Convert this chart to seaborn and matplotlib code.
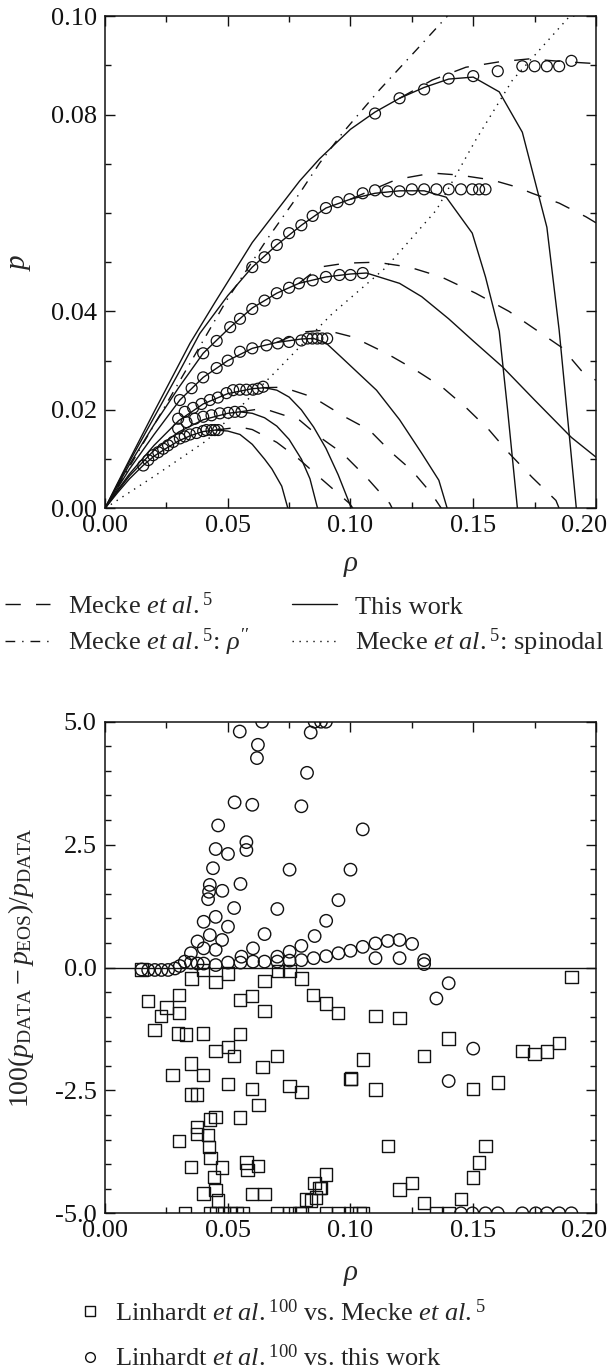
import numpy as np
import pandas as pd
import seaborn as sns
import matplotlib
matplotlib.use("Agg")
import matplotlib.pyplot as plt
from matplotlib.lines import Line2D
from matplotlib.ticker import MultipleLocator, FormatStrFormatter
from matplotlib.transforms import ScaledTranslation

# ---------------- isotherms: this work (solid) ----------------
iso1_rho = [0, 0.005, 0.010, 0.0155, 0.020, 0.025, 0.030, 0.035, 0.040, 0.045, 0.050, 0.055, 0.060, 0.065, 0.068, 0.072, 0.0745]
iso1_p   = [0, 0.0031, 0.0060, 0.0087, 0.0106, 0.0122, 0.0137, 0.0148, 0.0156, 0.0159, 0.0157, 0.0150, 0.0130, 0.0100, 0.0080, 0.0045, 0.0]
iso2_rho = [0, 0.005, 0.010, 0.020, 0.030, 0.040, 0.050, 0.055, 0.060, 0.065, 0.070, 0.075, 0.080, 0.0835, 0.0866]
iso2_p   = [0, 0.0034, 0.0066, 0.0118, 0.0155, 0.0180, 0.0193, 0.0196, 0.0193, 0.0184, 0.0167, 0.0140, 0.0100, 0.0060, 0.0]
iso3_rho = [0, 0.005, 0.010, 0.020, 0.030, 0.040, 0.050, 0.060, 0.065, 0.070, 0.075, 0.080, 0.085, 0.090, 0.095, 0.1004]
iso3_p   = [0, 0.0036, 0.0070, 0.0128, 0.0178, 0.0212, 0.0233, 0.0243, 0.0245, 0.0240, 0.0226, 0.0200, 0.0165, 0.0122, 0.0068, 0.0]
iso4_rho = [0, 0.005, 0.010, 0.020, 0.0305, 0.040, 0.050, 0.060, 0.070, 0.080, 0.085, 0.090, 0.0967, 0.1106, 0.120, 0.129, 0.136, 0.1394]
iso4_p   = [0, 0.0040, 0.0080, 0.0150, 0.0220, 0.0266, 0.0300, 0.0325, 0.0337, 0.0344, 0.0345, 0.0336, 0.0305, 0.0240, 0.0180, 0.0112, 0.0057, 0.0]
iso5_rho = [0, 0.005, 0.010, 0.020, 0.030, 0.040, 0.051, 0.060, 0.070, 0.079, 0.090, 0.100, 0.1065, 0.120, 0.129, 0.140, 0.150, 0.162, 0.175, 0.190, 0.200]
iso5_p   = [0, 0.0045, 0.0089, 0.0170, 0.0245, 0.0315, 0.0368, 0.0407, 0.0437, 0.0457, 0.0470, 0.0476, 0.0478, 0.0457, 0.0430, 0.0385, 0.0340, 0.0287, 0.0220, 0.0144, 0.0104]
iso6_rho = [0, 0.005, 0.010, 0.020, 0.030, 0.0386, 0.050, 0.060, 0.070, 0.080, 0.090, 0.100, 0.110, 0.120, 0.130, 0.139, 0.1496, 0.155, 0.1606, 0.164, 0.168]
iso6_p   = [0, 0.0048, 0.0095, 0.0185, 0.0275, 0.0355, 0.0432, 0.0490, 0.0535, 0.0575, 0.0610, 0.0628, 0.0640, 0.0645, 0.0645, 0.0632, 0.0559, 0.0470, 0.0360, 0.0200, 0.0]
iso7_rho = [0, 0.005, 0.010, 0.020, 0.0346, 0.045, 0.060, 0.0793, 0.0874, 0.100, 0.110, 0.120, 0.130, 0.140, 0.150, 0.1606, 0.170, 0.180, 0.185, 0.192]
iso7_p   = [0, 0.0050, 0.0099, 0.0196, 0.0335, 0.0420, 0.0540, 0.0665, 0.0710, 0.0770, 0.0805, 0.0833, 0.0855, 0.0872, 0.0876, 0.0846, 0.0764, 0.0571, 0.0362, 0.0]

# ---------------- Mecke et al. isotherms beyond the maximum (dashed) ----------------
mecke1_rho = [0.045, 0.055, 0.060, 0.070, 0.079, 0.0874, 0.0996, 0.101]
mecke1_p   = [0.0159, 0.0165, 0.0160, 0.0134, 0.0100, 0.0063, 0.0010, 0.0]
mecke2_rho = [0.055, 0.0644, 0.0793, 0.0874, 0.0967, 0.1065, 0.116, 0.117]
mecke2_p   = [0.0196, 0.0203, 0.0179, 0.0145, 0.0112, 0.0063, 0.0010, 0.0]
mecke3_rho = [0.064, 0.0724, 0.0846, 0.098, 0.1077, 0.117, 0.125, 0.133, 0.137]
mecke3_p   = [0.0245, 0.0246, 0.0226, 0.0185, 0.0159, 0.0112, 0.0077, 0.0030, 0.0]
mecke4_rho = [0.070, 0.080, 0.090, 0.101, 0.1146, 0.1268, 0.1374, 0.147, 0.1565, 0.1646, 0.174, 0.1837, 0.185]
mecke4_p   = [0.0337, 0.0358, 0.0362, 0.0348, 0.0315, 0.0280, 0.0246, 0.0205, 0.0159, 0.0112, 0.0063, 0.0016, 0.0]
mecke5_rho = [0.079, 0.0874, 0.098, 0.1106, 0.124, 0.137, 0.151, 0.1646, 0.174, 0.186, 0.194, 0.200]
mecke5_p   = [0.0457, 0.0490, 0.0498, 0.0500, 0.0490, 0.0470, 0.0437, 0.0400, 0.0368, 0.0327, 0.0280, 0.0260]
mecke6_rho = [0.100, 0.1187, 0.1333, 0.1443, 0.1577, 0.1675, 0.174, 0.185, 0.196, 0.200]
mecke6_p   = [0.0628, 0.0668, 0.0681, 0.0677, 0.0667, 0.0653, 0.0640, 0.0620, 0.0592, 0.0580]
mecke7_rho = [0.120, 0.1333, 0.147, 0.1606, 0.1728, 0.188, 0.198, 0.200]
mecke7_p   = [0.0833, 0.0870, 0.0896, 0.0907, 0.0913, 0.0907, 0.0904, 0.0903]

# saturated vapour density rho'' and vapour spinodal (Mecke et al.)
rho2_rho = [0, 0.0236, 0.0496, 0.0658, 0.0793, 0.0874, 0.0967, 0.1118, 0.1268, 0.138, 0.1395]
rho2_p   = [0, 0.0200, 0.0423, 0.0545, 0.0640, 0.0701, 0.0762, 0.0850, 0.0931, 0.0992, 0.1000]
spin_rho = [0, 0.020, 0.0415, 0.070, 0.0846, 0.0927, 0.1146, 0.135, 0.151, 0.166, 0.189, 0.1912]
spin_p   = [0, 0.0065, 0.0138, 0.0280, 0.0355, 0.0396, 0.0490, 0.0606, 0.0748, 0.0870, 0.0998, 0.1000]

# ---------------- Linhardt et al. data (circles) ----------------
lin1_rho = [0.0156, 0.0176, 0.0196, 0.0217, 0.0237, 0.0257, 0.0278, 0.0305, 0.0325, 0.0346, 0.0373, 0.0400, 0.0413, 0.0434, 0.0447, 0.0461]
lin1_p   = [0.0087, 0.0098, 0.0108, 0.0114, 0.0121, 0.0128, 0.0135, 0.0142, 0.0146, 0.0150, 0.0153, 0.0157, 0.0159, 0.0159, 0.0159, 0.0159]
lin2_rho = [0.0298, 0.0332, 0.0366, 0.0400, 0.0434, 0.0468, 0.0502, 0.0529, 0.0556]
lin2_p   = [0.0162, 0.0175, 0.0182, 0.0186, 0.0189, 0.0193, 0.0194, 0.0196, 0.0196]
lin3_rho = [0.0298, 0.0325, 0.0359, 0.0393, 0.0427, 0.0460, 0.0495, 0.0522, 0.0549, 0.0576, 0.0603, 0.0623, 0.0644]
lin3_p   = [0.0182, 0.0196, 0.0204, 0.0212, 0.0220, 0.0225, 0.0234, 0.0240, 0.0241, 0.0241, 0.0241, 0.0243, 0.0247]
lin4_rho = [0.0305, 0.0353, 0.0400, 0.0455, 0.0500, 0.0550, 0.0600, 0.0658, 0.0704, 0.0750, 0.0800, 0.0825, 0.0845, 0.0865, 0.0885, 0.0905]
lin4_p   = [0.0220, 0.0244, 0.0266, 0.0285, 0.0300, 0.0318, 0.0325, 0.0331, 0.0335, 0.0338, 0.0341, 0.0345, 0.0345, 0.0345, 0.0345, 0.0345]
lin5_rho = [0.0400, 0.0455, 0.0510, 0.0550, 0.0600, 0.0650, 0.0700, 0.0750, 0.0790, 0.0846, 0.0900, 0.0955, 0.1000, 0.1050]
lin5_p   = [0.0315, 0.0340, 0.0368, 0.0385, 0.0405, 0.0422, 0.0437, 0.0448, 0.0457, 0.0463, 0.0470, 0.0474, 0.0474, 0.0478]
lin6_rho = [0.060, 0.065, 0.070, 0.075, 0.080, 0.0846, 0.090, 0.0947, 0.0996, 0.105, 0.110, 0.115, 0.120, 0.125, 0.130, 0.135, 0.140, 0.145, 0.1496, 0.1524, 0.155]
lin6_p   = [0.0490, 0.0510, 0.0535, 0.0559, 0.0575, 0.0594, 0.0610, 0.0622, 0.0628, 0.0640, 0.0646, 0.0644, 0.0644, 0.0648, 0.0648, 0.0648, 0.0648, 0.0648, 0.0648, 0.0648, 0.0648]
lin7_rho = [0.110, 0.120, 0.130, 0.140, 0.150, 0.160, 0.170, 0.175, 0.180, 0.185, 0.190]
lin7_p   = [0.0802, 0.0833, 0.0851, 0.0873, 0.0878, 0.0888, 0.0898, 0.0898, 0.0898, 0.0898, 0.0909]

# ---------------- deviations: Linhardt vs. this work (circles) ----------------
dev_work_rho = [0.0149, 0.0176, 0.0203, 0.0230, 0.0257, 0.0285, 0.0305,
                0.0325, 0.0350, 0.0377, 0.0402, 0.0451, 0.0501, 0.0552, 0.0603, 0.0650, 0.0702, 0.0752, 0.0800,
                0.0350, 0.0377, 0.0402, 0.0451, 0.0427, 0.0477, 0.0402, 0.0451, 0.0501, 0.0526,
                0.0427, 0.0424, 0.0420, 0.0478, 0.0552, 0.0440, 0.0451, 0.0501, 0.0576, 0.0576,
                0.0461, 0.0528, 0.0600, 0.0619, 0.0623, 0.0549, 0.0640,
                0.0556, 0.0603, 0.0650, 0.0702, 0.0752, 0.0800, 0.0854, 0.0901, 0.0951, 0.1000, 0.1050,
                0.0702, 0.0752, 0.0800, 0.0823, 0.0838, 0.0854, 0.0880, 0.0900,
                0.0850, 0.0901, 0.0951, 0.1000, 0.1050, 0.1102, 0.1152, 0.1200, 0.1251,
                0.1102, 0.1200, 0.1300, 0.1300, 0.1400, 0.1350, 0.1500, 0.1400,
                0.1450, 0.1497, 0.1550, 0.1600, 0.1700, 0.1755, 0.1800, 0.1850, 0.1900]
dev_work     = [-0.04, -0.05, -0.05, -0.05, -0.05, -0.02, 0.03,
                0.12, 0.10, 0.08, 0.08, 0.05, 0.10, 0.10, 0.12, 0.12, 0.12, 0.14, 0.15,
                0.29, 0.53, 0.39, 0.36, 0.66, 0.56, 0.93, 1.03, 0.83, 1.21,
                1.68, 1.54, 1.39, 1.56, 1.70, 2.02, 2.41, 2.31, 2.55, 2.39,
                2.89, 3.36, 3.31, 4.26, 4.53, 4.80, 5.00,
                0.22, 0.39, 0.68, 1.19, 1.99, 3.28, 0.64, 0.95, 1.37, 1.99, 2.81,
                0.22, 0.32, 0.44, 3.96, 4.78, 5.00, 5.00, 5.00,
                0.19, 0.23, 0.29, 0.34, 0.42, 0.49, 0.54, 0.56, 0.48,
                0.19, 0.19, 0.15, 0.07, -0.32, -0.63, -1.65, -2.31,
                -5.0, -5.0, -5.0, -5.0, -5.0, -5.0, -5.0, -5.0, -5.0]

# ---------------- deviations: Linhardt vs. Mecke et al. (squares) ----------------
dev_mecke_rho = [0.0149, 0.0352, 0.0400, 0.0451, 0.0501, 0.0650, 0.0705, 0.0752, 0.0800,
                 0.0176, 0.0301, 0.0251, 0.0228, 0.0301, 0.0201, 0.0298, 0.0329, 0.0400,
                 0.0551, 0.0600, 0.0650, 0.0551, 0.0847, 0.0901, 0.0949,
                 0.0450, 0.0501, 0.0526, 0.0701, 0.0350, 0.0275, 0.0400, 0.0641, 0.0501, 0.0600,
                 0.0752, 0.0800, 0.1003, 0.0350, 0.0375, 0.0626, 0.0450, 0.0427, 0.0551,
                 0.0375, 0.0375, 0.0420, 0.0301, 0.0424, 0.0430, 0.0350, 0.0477, 0.0443,
                 0.0576, 0.0580, 0.0623, 0.0402, 0.0450, 0.0460, 0.0600, 0.0650,
                 0.0901, 0.0854, 0.0880, 0.0820, 0.0840, 0.0860, 0.0874,
                 0.1102, 0.1200, 0.1400, 0.1300, 0.1050, 0.1000, 0.1102, 0.1500, 0.1600,
                 0.1700, 0.1750, 0.1800, 0.1850, 0.1900,
                 0.1152, 0.1550, 0.1524, 0.1500, 0.1200, 0.1250, 0.1300, 0.1450,
                 0.0325, 0.0427, 0.0454, 0.0484, 0.0511, 0.0535, 0.0560, 0.0700, 0.0752,
                 0.0800, 0.0793, 0.0901, 0.0951, 0.1000, 0.1037, 0.1050, 0.1351, 0.1400]
dev_mecke     = [-0.04, -0.22, -0.05, -0.29, -0.12, -0.27, -0.07, -0.07, -0.22,
                 -0.68, -0.56, -0.81, -0.99, -0.92, -1.27, -1.34, -1.36, -1.34,
                 -0.66, -0.58, -0.89, -1.35, -0.56, -0.73, -0.92,
                 -1.70, -1.62, -1.80, -1.80, -1.95, -2.19, -2.19, -2.02, -2.37, -2.47,
                 -2.41, -2.53, -2.26, -2.58, -2.58, -2.80, -3.04, -3.09, -3.05,
                 -3.25, -3.39, -3.41, -3.53, -3.65, -3.87, -4.06, -4.07, -4.26,
                 -3.97, -4.12, -4.04, -4.60, -4.53, -4.74, -4.61, -4.61,
                 -4.21, -4.38, -4.48, -4.72, -4.74, -4.68, -4.49,
                 -0.99, -1.03, -1.44, -1.80, -1.87, -2.27, -2.48, -2.47, -2.34,
                 -1.70, -1.76, -1.71, -1.54, -0.19,
                 -3.63, -3.63, -3.97, -4.27, -4.52, -4.38, -4.79, -4.71,
                 -5.0, -5.0, -5.0, -5.0, -5.0, -5.0, -5.0, -5.0, -5.0,
                 -5.0, -5.0, -5.0, -5.0, -5.0, -5.0, -5.0, -5.0, -5.0]

# axis ticks
rho_ticks = [0.00, 0.05, 0.10, 0.15, 0.20]
p_ticks = [0.00, 0.02, 0.04, 0.08, 0.10]
dev_ticks = [-5.0, -2.5, 0.0, 2.5, 5.0]

# ---------------- style ----------------
sns.set_theme(style="ticks")
plt.rcParams.update({
    "font.family": ["Liberation Serif", "DejaVu Serif"],
    "mathtext.fontset": "custom",
    "mathtext.rm": "Liberation Serif",
    "mathtext.it": "Liberation Serif:italic",
    "mathtext.bf": "Liberation Serif:bold",
    "mathtext.fallback": "stix",
    "axes.unicode_minus": False,
    "axes.linewidth": 1.1,
    "xtick.direction": "in", "ytick.direction": "in",
    "xtick.top": True, "ytick.right": True,
    "xtick.major.size": 7, "ytick.major.size": 7,
    "xtick.minor.size": 4, "ytick.minor.size": 4,
    "xtick.major.width": 1.0, "ytick.major.width": 1.0,
    "xtick.minor.width": 1.0, "ytick.minor.width": 1.0,
    "xtick.labelsize": 19, "ytick.labelsize": 19,
    "xtick.color": "#111111", "ytick.color": "#111111",
    "axes.edgecolor": "#111111",
})

INK = "#111111"
DASH = (0, (11, 11))
DASHDOT = (0, (7, 5, 1, 5))
DOT = (0, (1, 4))
LW = 1.0

fig = plt.figure(figsize=(6.1, 13.72), dpi=100)
ax1 = fig.add_axes([0.1721, 0.6295, 0.8049, 0.3588])
ax2 = fig.add_axes([0.1721, 0.11567, 0.8049, 0.3583])


def line(ax, x, y, ls):
    sns.lineplot(x=x, y=y, ax=ax, color=INK, lw=LW, linestyle=ls,
                 sort=False, estimator=None)


# upper panel: isotherms
solid = [(iso1_rho, iso1_p), (iso2_rho, iso2_p), (iso3_rho, iso3_p), (iso4_rho, iso4_p),
         (iso5_rho, iso5_p), (iso6_rho, iso6_p), (iso7_rho, iso7_p)]
mecke = [(mecke1_rho, mecke1_p), (mecke2_rho, mecke2_p), (mecke3_rho, mecke3_p),
         (mecke4_rho, mecke4_p), (mecke5_rho, mecke5_p), (mecke6_rho, mecke6_p),
         (mecke7_rho, mecke7_p)]
for x, y in solid:
    line(ax1, x, y, "-")
for x, y in mecke:
    line(ax1, x, y, DASH)
line(ax1, rho2_rho, rho2_p, DASHDOT)
line(ax1, spin_rho, spin_p, DOT)

lin = [(lin1_rho, lin1_p), (lin2_rho, lin2_p), (lin3_rho, lin3_p), (lin4_rho, lin4_p),
       (lin5_rho, lin5_p), (lin6_rho, lin6_p), (lin7_rho, lin7_p)]
for x, y in lin:
    sns.scatterplot(x=x, y=y, ax=ax1, marker="o", s=62, facecolor="none",
                    edgecolor=INK, linewidth=0.9, zorder=3)

ax1.set_xlim(0, 0.20)
ax1.set_ylim(0, 0.10)
ax1.set_xticks(rho_ticks)
ax1.set_yticks(p_ticks)
ax1.xaxis.set_minor_locator(MultipleLocator(0.025))
ax1.yaxis.set_minor_locator(MultipleLocator(0.01))
ax1.xaxis.set_major_formatter(FormatStrFormatter("%.2f"))
ax1.yaxis.set_major_formatter(FormatStrFormatter("%.2f"))
ax1.tick_params(axis="x", which="major", pad=5)
ax1.tick_params(axis="y", which="major", pad=6)
ax1.set_xlabel(r"$\rho$", fontsize=21)
ax1.set_ylabel(r"$p$", fontsize=21)
ax1.xaxis.set_label_coords(0.5, -0.09)
ax1.yaxis.set_label_coords(-0.147, 0.5)

# lower panel: deviations
ax2.axhline(0, color=INK, lw=LW)
sns.scatterplot(x=dev_mecke_rho, y=dev_mecke, ax=ax2, marker="s", s=80,
                facecolor="none", edgecolor=INK, linewidth=1.0, zorder=3)
sns.scatterplot(x=dev_work_rho, y=dev_work, ax=ax2, marker="o", s=80,
                facecolor="none", edgecolor=INK, linewidth=1.0, zorder=3)
ax2.set_xlim(0, 0.20)
ax2.set_ylim(-5, 5)
ax2.set_xticks(rho_ticks)
ax2.set_yticks(dev_ticks)
ax2.xaxis.set_minor_locator(MultipleLocator(0.025))
ax2.yaxis.set_minor_locator(MultipleLocator(0.5))
ax2.xaxis.set_major_formatter(FormatStrFormatter("%.2f"))
ax2.yaxis.set_major_formatter(FormatStrFormatter("%.1f"))
ax2.tick_params(axis="x", which="major", pad=5)
ax2.tick_params(axis="y", which="major", pad=6)
ax2.set_xlabel(r"$\rho$", fontsize=21)
ax2.set_ylabel(r"$100(p_{\mathrm{DATA}} - p_{\mathrm{EOS}})/p_{\mathrm{DATA}}$", fontsize=20)
ax2.xaxis.set_label_coords(0.5, -0.1)
ax2.yaxis.set_label_coords(-0.14, 0.5)

# keep the rightmost x tick label inside the figure
shift = ScaledTranslation(-12 / 100, 0, fig.dpi_scale_trans)
for ax in (ax1, ax2):
    lab = ax.xaxis.get_major_ticks()[-1].label1
    lab.set_transform(lab.get_transform() + shift)

# legends
h_mecke = Line2D([], [], color=INK, lw=LW, linestyle=DASH)
h_work = Line2D([], [], color=INK, lw=LW, linestyle="-")
h_rho2 = Line2D([], [], color=INK, lw=LW, linestyle=DASHDOT)
h_spin = Line2D([], [], color=INK, lw=LW, linestyle=DOT)
fig.legend([h_mecke, h_rho2, h_work, h_spin],
           [r"Mecke $\mathit{et\ al}.^{5}$", r"Mecke $\mathit{et\ al}.^{5}$: $\rho''$",
            "This work", r"Mecke $\mathit{et\ al}.^{5}$: spinodal"],
           loc="upper left", bbox_to_anchor=(0.008, 1 - 592 / 1372), ncol=2,
           frameon=False, fontsize=19, handlelength=1.7, handletextpad=0.7,
           columnspacing=1.6, labelspacing=0.3, borderpad=0, borderaxespad=0)

h_sq = Line2D([], [], color=INK, marker="s", markersize=7, markerfacecolor="none",
              markeredgewidth=1.0, linestyle="none")
h_ci = Line2D([], [], color=INK, marker="o", markersize=7, markerfacecolor="none",
              markeredgewidth=1.0, linestyle="none")
fig.legend([h_sq, h_ci],
           [r"Linhardt $\mathit{et\ al}.^{100}$ vs. Mecke $\mathit{et\ al}.^{5}$",
            r"Linhardt $\mathit{et\ al}.^{100}$ vs. this work"],
           loc="upper left", bbox_to_anchor=(0.128, 1 - 1299 / 1372), ncol=1,
           frameon=False, fontsize=19, handlelength=0.9, handletextpad=0.5,
           labelspacing=0.72, borderpad=0, borderaxespad=0)

fig.savefig("out.png", dpi=100)
